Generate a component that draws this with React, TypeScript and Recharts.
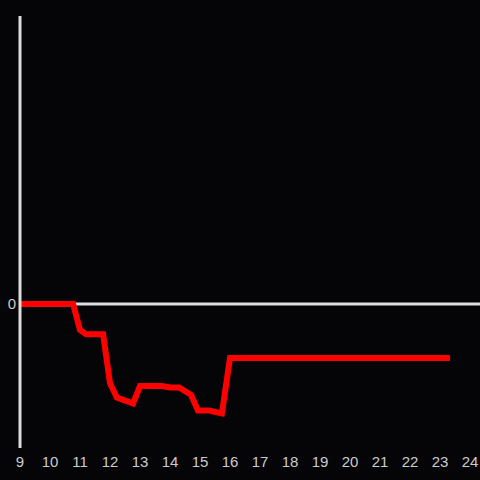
import React from "react";
import { LineChart, Line, XAxis, YAxis, ReferenceLine } from "recharts";

const xValues = [9, 10.77, 11.0, 11.2, 11.77, 12.0, 12.23, 12.77, 13.0, 13.73, 14.0, 14.3, 14.7, 14.93, 15.3, 15.73, 16.0, 23.33];
const yValues = [0, 0, -0.18, -0.21, -0.21, -0.55, -0.65, -0.69, -0.57, -0.57, -0.58, -0.58, -0.63, -0.74, -0.74, -0.76, -0.375, -0.375];
const xTicks = [9, 10, 11, 12, 13, 14, 15, 16, 17, 18, 19, 20, 21, 22, 23, 24];
const yTicks = [0];

const data = xValues.map((x, i) => ({ x, y: yValues[i] }));

export default function App() {
  return (
    <div style={{ position: "fixed", left: 0, top: 0, width: 480, height: 480, background: "#050407" }}>
      <LineChart width={480} height={480} data={data} margin={{ top: 16, right: 0, bottom: 0, left: 0 }}>
        <XAxis
          type="number"
          dataKey="x"
          domain={[9, 24.3333]}
          ticks={xTicks}
          axisLine={false}
          tickLine={false}
          height={32}
          tick={{ fill: "#cccccc", fontSize: 15, fontFamily: "Liberation Sans" }}
          interval={0}
        />
        <YAxis
          type="number"
          domain={[-1, 2]}
          ticks={yTicks}
          width={20}
          tickLine={false}
          tickSize={2}
          tickMargin={2}
          axisLine={{ stroke: "#dddddd", strokeWidth: 3 }}
          tick={{ fill: "#cccccc", fontSize: 15, fontFamily: "Liberation Sans" }}
        />
        <ReferenceLine y={0} stroke="#dddddd" strokeWidth={3} />
        <Line type="linear" dataKey="y" stroke="#ff0000" strokeWidth={6} dot={false} isAnimationActive={false} />
      </LineChart>
    </div>
  );
}
